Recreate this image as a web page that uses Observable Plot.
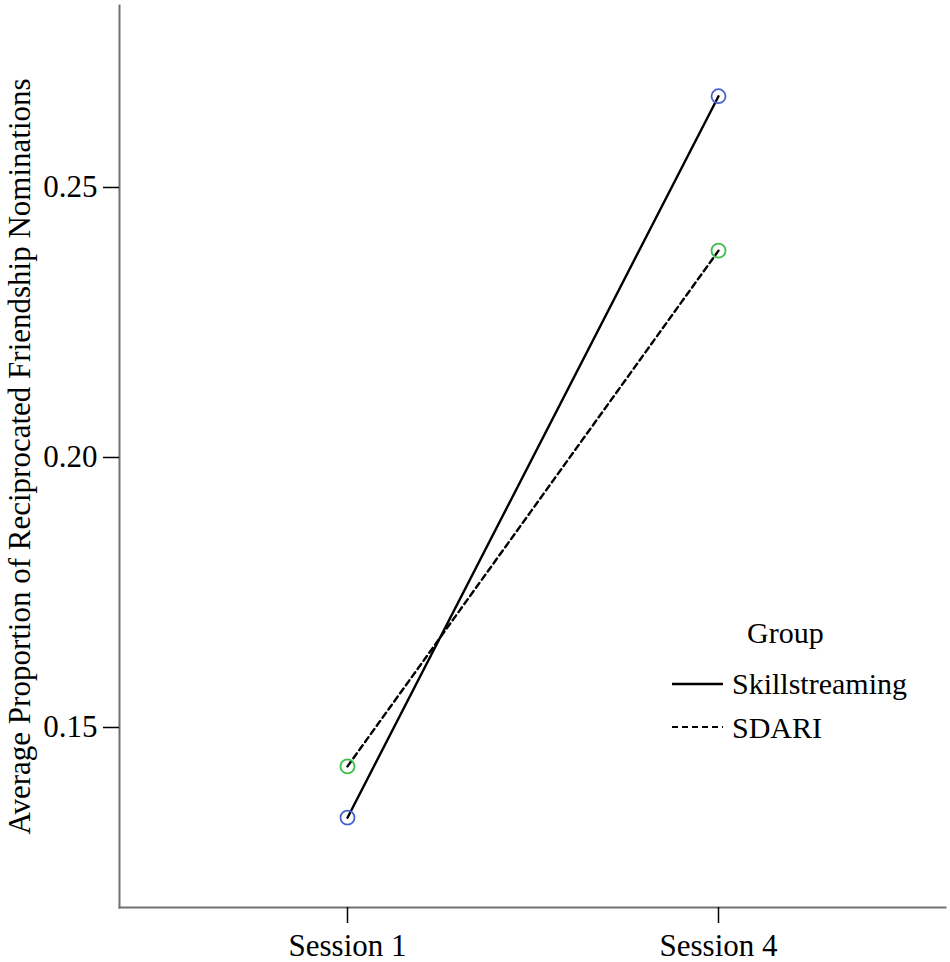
<!DOCTYPE html>
<html>
<head>
<meta charset="utf-8">
<script src="https://cdn.jsdelivr.net/npm/d3@7"></script>
<script src="https://cdn.jsdelivr.net/npm/@observablehq/plot@0.6"></script>
<style>
  html, body { margin: 0; padding: 0; background: #fff; }
  #wrap { position: relative; width: 950px; height: 962px; font-family: "Liberation Serif", "Times New Roman", Tinos, "DejaVu Serif", "Noto Serif", serif; }
  .lg { position: absolute; font-size: 30px; line-height: 30px; white-space: nowrap; color: #000; }
  .sw { position: absolute; }
</style>
</head>
<body>
<div id="wrap"></div>
<script>
const sessions = ["Session 1", "Session 4"];
const groups = ["Skillstreaming", "SDARI"];
const skillstreaming = [0.1333, 0.2669];
const sdari = [0.1428, 0.2383];
const yTicks = [0.15, 0.20, 0.25];
const groupColors = ["#4a62cc", "#3dbf4a"];
const yLabel = "Average Proportion of Reciprocated Friendship Nominations";

const data = [
  ...sessions.map((s, i) => ({session: s, group: groups[0], value: skillstreaming[i]})),
  ...sessions.map((s, i) => ({session: s, group: groups[1], value: sdari[i]}))
];

const chart = Plot.plot({
  width: 950,
  height: 962,
  marginLeft: 119,
  marginRight: 5,
  marginTop: 5,
  marginBottom: 55,
  style: {fontFamily: "'Liberation Serif', 'Times New Roman', Tinos, 'DejaVu Serif', 'Noto Serif', serif", fontSize: "31px", color: "#000", background: "#fff"},
  x: {type: "point", domain: sessions, padding: 0.612},
  y: {domain: [0.116667, 0.2837]},
  color: {domain: groups, range: groupColors},
  marks: [
    Plot.frame({anchor: "left", stroke: "#707070", strokeWidth: 2}),
    Plot.frame({anchor: "bottom", stroke: "#707070", strokeWidth: 2}),
    Plot.axisY({ticks: yTicks, tickFormat: d3.format(".2f"), tickSize: 16, tickPadding: 6, stroke: "#000", strokeWidth: 1.5,
      label: yLabel, labelAnchor: "center", labelOffset: 112, labelArrow: "none"}),
    Plot.axisX({tickSize: 16, tickPadding: 10, stroke: "#000", strokeWidth: 1.5, label: null}),
    Plot.line(data.filter(d => d.group === groups[0]), {x: "session", y: "value", stroke: "#000", strokeWidth: 2.4}),
    Plot.line(data.filter(d => d.group === groups[1]), {x: "session", y: "value", stroke: "#000", strokeWidth: 2.4, strokeDasharray: "6,4"}),
    Plot.dot(data, {x: "session", y: "value", stroke: "group", r: 7, strokeWidth: 1.8, fill: "none"})
  ]
});

const wrap = document.getElementById("wrap");
wrap.appendChild(chart);

// legend overlay
function addText(txt, left, baseline) {
  const d = document.createElement("div");
  d.className = "lg";
  d.textContent = txt;
  d.style.left = left + "px";
  d.style.top = (baseline - 25) + "px";
  wrap.appendChild(d);
}
function addSwatch(left, y, dash) {
  const ns = "http://www.w3.org/2000/svg";
  const s = document.createElementNS(ns, "svg");
  s.setAttribute("class", "sw");
  s.setAttribute("width", 52);
  s.setAttribute("height", 6);
  s.style.left = left + "px";
  s.style.top = (y - 3) + "px";
  const l = document.createElementNS(ns, "line");
  l.setAttribute("x1", 0); l.setAttribute("x2", 51);
  l.setAttribute("y1", 3); l.setAttribute("y2", 3);
  l.setAttribute("stroke", "#000");
  l.setAttribute("stroke-width", dash ? 1.8 : 2.4);
  if (dash) l.setAttribute("stroke-dasharray", "6,4");
  s.appendChild(l);
  wrap.appendChild(s);
}
addText("Group", 747, 643);
addSwatch(672, 684, false);
addText(groups[0], 732, 694);
addSwatch(672, 727, true);
addText(groups[1], 732, 738);
</script>
</body>
</html>
